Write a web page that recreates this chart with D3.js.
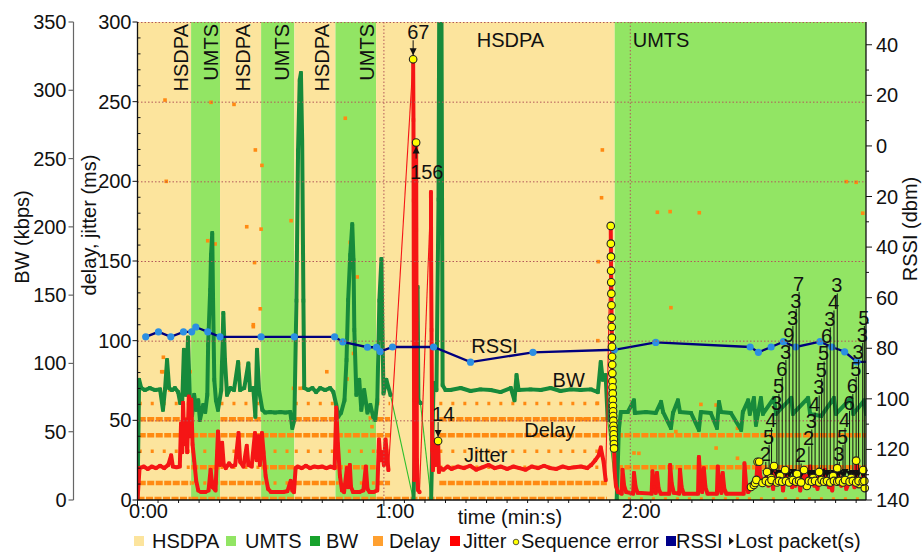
<!DOCTYPE html>
<html>
<head>
<meta charset="utf-8">
<script src="https://cdn.jsdelivr.net/npm/d3@7"></script>
<style>
  body { margin: 0; background: #fff; }
  svg { display: block; font-family: "Liberation Sans", Arial, sans-serif; }
</style>
</head>
<body>
<svg id="chart" width="922" height="556"></svg>
<script>
// ---------- network periods [start s, end s, technology] ----------
const bands = [
  [0, 13.05, "HSDPA"], [13.05, 20.1, "UMTS"], [20.1, 30.1, "HSDPA"], [30.1, 38.2, "UMTS"],
  [38.2, 48.2, "HSDPA"], [48.2, 58.1, "UMTS"], [58.1, 116.2, "HSDPA"], [116.2, 177.4, "UMTS"]
];

// ---------- RSSI (dBm) ----------
const rssiTimes  = [2.0, 5.1, 8.1, 11.2, 13.2, 14.2, 17.1, 20.1, 30.1, 38.2, 48.0, 50.0, 56.0, 58.2, 59.1,
                    62.1, 72.1, 81.1, 96.3, 116.1, 126.2, 149.2, 151.2, 154.3, 157.3, 160.3, 166.2, 169.1,
                    172.2, 175.2, 177.4];
const rssiValues = [-75.5, -73.5, -75.5, -73.5, -73.5, -71.6, -73.5, -75.5, -75.5, -75.5, -75.5, -77.5, -79.6,
                    -79.6, -81.3, -79.5, -79.5, -85.5, -81.6, -80.6, -77.7, -79.5, -81.6, -79.5, -77.4, -79.5,
                    -77.4, -79.5, -81.4, -85.4, -85.4];

// ---------- bandwidth samples [s, kbps] ----------
const bwSamples = [
  [0,0],[0.4,88],[0.9,82],[1.8,80.5],[3.0,82],[4.3,80.5],[5.5,81],[6.2,66],[6.7,81],[7.2,102.5],[7.7,82],
  [8.4,80.5],[9.1,82],[9.9,79],[10.4,71],[10.9,73],[11.3,110],[11.8,77],[12.3,119],[12.8,69.6],
  [13.3,62],[13.8,77],[14.3,66],[14.8,73],[15.2,58.6],[16.0,69.6],[16.5,64.4],[17.0,77],[17.2,113.5],
  [17.7,153.8],[17.9,179.4],[18.2,195.5],[18.4,146.4],[18.7,88],[19.1,73],[19.6,66],
  [20.4,80.5],[20.9,137],[21.3,102.5],[21.8,77],[22.6,82],[23.5,80.5],[24.5,101],[25.0,80.5],[26.0,82],
  [27.0,100],[27.4,80.5],[28.2,82],[28.7,61],[29.1,110],[29.6,80.5],
  [30.4,66],[31.1,64],[32.3,64.4],[33.5,64],[34.8,64.4],[36.0,64],[37.2,64.4],[37.7,52.7],[38.2,58.6],
  [38.7,146],[39.1,256],[39.5,307.5],[39.8,312.7],[40.1,263.6],[40.4,146],[40.6,82],[41.6,80.5],[42.6,82],
  [43.5,79],[44.5,82],[45.7,80.5],[46.9,82],[47.7,79],
  [48.4,69.6],[48.9,61],[49.6,64],[50.4,73],[50.9,102.5],[51.3,146.4],[51.8,179.4],[52.3,202],[52.6,175.7],
  [52.8,124.5],[53.3,77],[54.0,88],[54.5,66],[55.2,80.5],[56.0,64],[56.7,69.6],[57.4,61],[57.9,58.6],
  [58.4,73],[58.9,146],[59.4,176.5],[59.6,131.8],[59.9,78],[60.6,88],[61.6,77],
  [67.2,0],[67.7,58.6],[68.2,156],[68.4,73],[68.9,71],
  [71.5,0],[72.1,85.7],[72.8,80.5],[73.3,220],[73.5,380],[74.0,380],[74.3,84],[75.0,80.5],
  [76.2,80.5],[78.7,82],[81.1,79.8],[83.5,81],[86.0,80.5],[88.4,79],[90.9,82],[91.8,73],[92.3,91.5],
  [92.8,80.5],[95.7,81],[98.2,80.5],[100.6,82],[103.0,79.8],[105.5,81],[107.9,80.5],[110.4,81],[112.1,79],
  [112.8,101],[113.3,88],[114.0,91.5],[114.5,58.6],
  [116.7,0],[117.2,51],[117.7,64.4],[119.4,64.4],[120.9,73],[121.1,63.7],[123.8,64.4],[126.2,63.7],
  [127.5,71.8],[128.0,64.4],[129.9,52.7],[130.4,63.7],[131.6,73],[132.1,64.4],[134.8,63.7],[136.7,51.3],
  [137.2,64.4],[139.6,63.7],[141.1,52.7],[141.6,71.8],[142.1,64.4],[144.5,63.7],[147.0,51.3],[147.4,64.4],
  [148.7,73],[149.1,63],[150.1,74.7],[150.6,55],[151.1,63],[151.8,74.7],[152.3,63],[155.0,74.7],[155.5,63],
  [159.2,74.7],[159.6,63],[163.3,74.7],[163.8,63],[166.5,61.5],[169.6,74.7],[170.1,63],[173.8,74.7],
  [174.3,63],[177.0,73],[177.4,63]
];
// intervals without bandwidth samples (bridged by a thin line)
const bwGaps = [[61.6, 67.2], [68.9, 71.5], [114.5, 116.7]];

// ---------- jitter samples [s, ms] ----------
const jitterSamples = [
  [0,0],[0.5,20],[1.5,21],[2.5,19.5],[3.5,21],[4.5,20],[5.5,21.5],[6.5,20],[7.5,22],[8.2,28],[8.6,21],
  [9.5,20.5],[10.3,21],[10.6,48],[10.9,30],[11.1,61],[11.4,35],[11.8,50],[12.1,30],[12.5,65],[12.8,40],
  [13.1,63],[13.4,35],[13.8,25],[14.3,12],[14.8,6],[15.5,5],[16.5,5],[17.3,6],[17.8,19],[18.3,8],[19.0,6],
  [19.6,43],[20.1,22],[20.6,36],[21.0,22],[21.5,20],[22.3,23],[23.0,21],[23.8,22],[24.6,42],[25.0,24],
  [25.8,21],[26.6,34],[27.0,22],[27.8,21],[28.6,42],[29.0,25],[29.4,40],[29.8,22],
  [30.3,42],[30.7,30],[31.2,15],[31.8,7],[32.5,5],[34.0,5],[35.5,5],[36.5,5.5],[37.3,12],[37.7,6],[38.1,5],
  [38.5,20],[39.0,21],[40.0,20],[41.0,21.5],[42.0,20],[43.0,21],[44.0,20.5],[45.0,21],[46.0,20],[47.0,21],
  [48.0,20],[48.4,58],[48.8,35],[49.3,15],[49.8,6],[50.3,5],[51.0,20],[51.3,8],[51.7,22],[52.0,8],[52.5,5],
  [54.0,5],[55.0,6],[55.6,21],[56.0,7],[56.5,5],[57.5,5],[58.4,6],[58.8,38],[59.2,25],[59.6,30],[60.0,22],
  [60.4,38],[61.1,18.8],
  [67.2,238.5],[67.24,188],[67.29,125.5],[67.34,62.8],[67.39,12.6],
  [67.9,169.5],[67.95,113],[68.0,62.8],[68.04,25],[68.3,6.3],[68.66,5],
  [71.46,193.3],[71.5,150.6],[71.6,106.7],[71.7,62.8],[71.76,31.4],[71.95,18.8],[72.3,37.7],[72.56,22],
  [72.8,34.5],[73.4,17.6],[73.8,20],[74.5,19],[75.5,21],[76.5,19.5],[78.0,21],[79.5,20],[81.0,21.5],
  [82.5,19],[84.0,20.5],[85.5,22],[87.0,20],[88.5,21],[90.0,19.5],[91.5,21],[93.0,20],[94.5,19],[96.0,21],
  [97.5,20],[99.0,21.5],[100.5,20],[102.0,19.5],[103.5,21],[105.0,20],[106.5,20.5],[108.0,21],[109.5,20],
  [110.5,22],[111.5,25],[112.3,28],[112.8,33],[113.5,24],[114.0,12.5],
  [116.2,18],[116.5,9],[117.0,5],[117.9,4],[118.1,19],[118.5,9],[119.0,5],[120.7,4],[120.9,17],[121.3,8],
  [121.8,4.5],[125.2,4],[125.4,18],[125.8,8],[126.2,4.5],[126.5,17],[126.9,7],[127.4,4],[129.5,4],[129.7,22],
  [130.1,10],[130.6,4.5],[131.9,4],[132.1,19],[132.5,8],[133.0,4],[136.5,4],[136.7,27],[137.1,12],[137.5,5],
  [137.9,20],[138.3,8],[138.8,4],[141.1,4],[141.3,21],[141.7,9],[142.2,4.5],[142.5,17],[142.9,7],[143.4,4],
  [147.6,4],[147.8,23],[148.2,10],[148.7,5],[149.0,6],[151.6,16],[152.6,12],[153.6,9],[154.8,7],
  [156.0,10],[157.2,6],[158.4,19],[159.4,8],[160.2,9],[161.4,6],[162.6,8],[163.2,15],[163.8,21],[164.8,9],
  [165.6,7],[166.4,16],[167.4,19],[168.4,8],[169.2,6],[170.6,18],[171.4,9],[172.6,7],[173.6,11],[174.6,8],
  [175.4,13],[176.4,10],[177.3,14]
];
// intervals without jitter samples
const jitterGaps = [[61.1, 67.12], [67.39, 67.85], [68.66, 71.46], [114.0, 115.24]];

// ---------- sequence errors [s, jitter ms] ----------
const seqErrors = [
  [115.24,172.0],[115.27,160.9],[115.30,152.7],[115.33,143.9],[115.36,136.6],[115.39,129.5],[115.42,122.2],
  [115.45,114.4],[115.48,108.6],[115.51,101.9],[115.54,96.2],[115.57,89.9],[115.60,84.9],[115.63,79.5],
  [115.66,74.6],[115.69,70.7],[115.72,66.9],[115.75,62.8],[115.78,59.0],[115.81,55.7],[115.84,52.7],
  [115.87,49.8],[115.90,46.6],[115.93,43.9],[115.96,41.2],[115.99,38.1],[116.02,35.1],[116.05,32.4],
  [149.4,8.2],[150.1,9.4],[150.4,10.7],[150.7,12.6],[151.0,24],[151.4,24],[152.2,10.7],[153.3,17.6],
  [154.3,13.8],[155.0,21.3],[156.5,15],[157.7,18.8],[159.1,12.6],[160.6,16.3],[162.3,18.8],[163.0,8.8],
  [164.5,13.8],[166.0,17.6],[167.7,11.3],[169.4,15],[170.4,20],[171.9,12.6],[173.8,13.8],[175.0,24.7],
  [175.7,10],[176.7,18.8],[177.1,7.5]
];

// ---------- lost packets [s, jitter ms, packets lost] ----------
const lostPackets = [
  [67.12,276.6,67],[67.85,224.3,156],[73.2,37,14],
  [153.0,12,2],[153.8,11,5],[154.4,12.5,4],[155.7,11,3],[156.2,12,5],[157.0,11.5,6],[157.9,12,3],
  [158.7,11,9],[159.6,12.5,3],[160.4,11.5,3],[161.1,12,7],
  [161.6,11,2],[163.5,12,2],[164.2,11.5,3],[165.0,12,4],[166.0,11,3],[166.6,12.5,5],[167.2,11.5,5],
  [167.9,12,6],[168.7,11,3],[169.6,12,4],[170.4,11.5,3],
  [170.9,12,3],[171.8,11,5],[172.3,12.5,4],[173.4,11.5,6],[174.2,12,6],[175.0,11,5],[175.6,12,3],
  [176.6,11.5,3],[177.0,12,5]
];

// ---------- one-way delay (ms) ----------
// well-populated delay levels [from s, to s, ms]
const delayDenseRuns = [
  [0.3,13.0,50],[0.3,13.0,40],[0.3,13.0,10],[0,13.0,0],
  [13.1,20.0,40],[13.1,20.0,20],[13.1,20.0,0],
  [20.2,30.0,50],[20.2,30.0,40],[20.2,30.0,10],[20.2,30.0,0],
  [30.2,38.1,40],[30.2,38.1,20],[30.2,38.1,0],
  [38.3,48.1,50],[38.3,48.1,40],[38.3,48.1,10],[38.3,48.1,0],
  [48.3,58.0,40],[48.3,58.0,20],[48.3,58.0,0],
  [58.2,61.5,50],[58.2,61.5,40],[58.2,61.5,10],[58.2,114.3,0],
  [73.5,114.3,50],[73.5,114.3,40],[73.5,114.3,10],
  [116.5,177.4,40],[116.5,177.4,20]
];
// thinly populated delay levels
const delaySparseRuns = [
  [0.3,13.0,60],[0.3,13.0,30],[0.3,13.0,20],
  [13.1,20.0,30],[13.1,20.0,10],
  [20.2,30.0,60],[20.2,30.0,30],[20.2,30.0,20],
  [30.2,38.1,30],[30.2,38.1,10],
  [38.3,48.1,60],[38.3,48.1,30],[38.3,48.1,20],
  [48.3,58.0,30],[48.3,58.0,10],
  [58.2,61.5,60],[58.2,61.5,30],[58.2,61.5,20],
  [73.5,114.3,60],[73.5,114.3,30],[73.5,114.3,20],
  [116.5,177.4,0],[108.0,114.3,50]
];
// isolated delay samples [s, ms]
const delayOutliers = [
  [6.7,251],[7.0,200],[17.9,249.6],[23.5,248.3],[28.7,219.7],[30.3,210],[26.6,171.5],[30.1,170],
  [28.5,149],[29.9,120],[28.2,108.8],[37.4,175.3],[50.6,239.6],[51.8,161.7],[53.5,140],[17.1,162.7],
  [18.9,160.7],[113.2,219.7],[113.0,189.7],[126.6,180.6],[129.7,181],[136.8,180.3],[129.9,120.7],
  [112.1,100],[112.2,149.6],[172.6,199.8],[175.0,199.4],[176.6,180],
  [6.2,80.5],[12.8,80.5],[11.6,75.3],[28.2,110],[24.6,85.8],[46.1,80.5],[50.9,75.9],[56.7,51.5],
  [40.4,70.3],[6.3,89.6],[12.0,80.5],[112.0,60.7],[127.4,59.6],[137.2,60],[140.9,59.6],[146.1,45],
  [120.9,29.5],[122.1,29.3],[140.9,32.6],[146.1,26.2],[131.1,42.9],[5.9,80.5],[7.9,69],[38.0,70.1],
  [39.6,70.1],[51.0,76],[52.6,92],[57.1,46]
];

// ---------- axes ----------
const bwTicks = [0, 50, 100, 150, 200, 250, 300, 350];
const delayTicks = [0, 50, 100, 150, 200, 250, 300];
const rssiTicks = [-140, -120, -100, -80, -60, -40, -20, 0, 20, 40];
const timeTicks = [0, 60, 120];
const timeTickLabels = ["0:00", "1:00", "2:00"];

// ================= drawing =================
const svg = d3.select("#chart");
const x = d3.scaleLinear().domain([0, 177.4]).range([137.5, 866]);
const yMs = d3.scaleLinear().domain([0, 300]).range([500, 22]);
const yBw = d3.scaleLinear().domain([0, 350]).range([500, 22]);
const yRssi = d3.scaleLinear().domain([-140, 49]).range([500, 22]);
const [X0, X1] = x.range();
const [YB, YT] = yMs.range();

const colors = {
  HSDPA: "#FCE49D", UMTS: "#92E564",
  bw: "#178A3B", bwThin: "#2CBF2C",
  delay: "#FF8A12", jitter: "#F51515",
  rssi: "#00007E", rssiDot: "#2C8FE2",
  grid: "#B2575A"
};

svg.append("defs").append("clipPath").attr("id", "plot")
  .append("rect").attr("x", X0).attr("y", YT).attr("width", X1 - X0).attr("height", YB - YT);

const plot = svg.append("g").attr("clip-path", "url(#plot)");

// network periods
plot.selectAll("rect.band").data(bands).join("rect")
  .attr("x", d => x(d[0])).attr("width", d => x(d[1]) - x(d[0]))
  .attr("y", YT).attr("height", YB - YT)
  .attr("fill", d => colors[d[2]]);

// dotted grid
const grid = svg.append("g").attr("stroke", colors.grid).attr("stroke-width", 1)
  .attr("stroke-dasharray", "1.5,2");
grid.selectAll("line.h").data(delayTicks.filter(v => v > 0)).join("line")
  .attr("x1", X0).attr("x2", X1).attr("y1", d => yMs(d) + 0.5).attr("y2", d => yMs(d) + 0.5);
grid.selectAll("line.v").data(timeTicks.filter(v => v > 0)).join("line")
  .attr("x1", d => x(d)).attr("x2", d => x(d)).attr("y1", YT).attr("y2", YB);

// delay levels
const delayG = plot.append("g").attr("stroke", colors.delay).attr("fill", "none");
delayG.selectAll("line.dense").data(delayDenseRuns).join("line")
  .attr("x1", d => x(d[0])).attr("x2", d => x(d[1]))
  .attr("y1", d => yMs(d[2]) - 1).attr("y2", d => yMs(d[2]) - 1)
  .attr("stroke-width", 4.5).attr("stroke-dasharray", "7,1.5");
delayG.selectAll("line.sparse").data(delaySparseRuns).join("line")
  .attr("x1", d => x(d[0])).attr("x2", d => x(d[1]))
  .attr("y1", d => yMs(d[2]) - 1).attr("y2", d => yMs(d[2]) - 1)
  .attr("stroke-width", 3.5).attr("stroke-dasharray", "3,9");
plot.append("g").selectAll("rect").data(delayOutliers).join("rect")
  .attr("x", d => x(d[0]) - 1.8).attr("y", d => yMs(d[1]) - 1.8)
  .attr("width", 3.6).attr("height", 3.6).attr("fill", colors.delay);

// traces: dense stretches thick, bridges across gaps thin
function drawTrace(samples, yScale, gaps, thickColor, thinColor, thickWidth, dotSize) {
  const g = plot.append("g");
  const line = d3.line().x(d => x(d[0])).y(d => yScale(d[1]));
  const isGap = (a, b) => gaps.some(([g0, g1]) => a >= g0 - 1e-6 && b <= g1 + 1e-6);
  const runs = [[samples[0]]];
  const bridges = [];
  for (let i = 1; i < samples.length; i++) {
    const p = samples[i - 1], q = samples[i];
    if (isGap(p[0], q[0])) { bridges.push([p, q]); runs.push([q]); }
    else runs[runs.length - 1].push(q);
  }
  g.selectAll("path.bridge").data(bridges).join("path")
    .attr("d", line).attr("fill", "none").attr("stroke", thinColor).attr("stroke-width", 1.1);
  g.selectAll("path.run").data(runs.filter(r => r.length > 1)).join("path")
    .attr("d", line).attr("fill", "none").attr("stroke", thickColor)
    .attr("stroke-width", thickWidth).attr("stroke-linejoin", "round").attr("stroke-linecap", "round");
  g.selectAll("rect").data(samples).join("rect")
    .attr("x", d => x(d[0]) - dotSize / 2).attr("y", d => yScale(d[1]) - dotSize / 2)
    .attr("width", dotSize).attr("height", dotSize).attr("fill", thickColor);
}

drawTrace(bwSamples, yBw, bwGaps, colors.bw, colors.bwThin, 4, 3.6);

const jitterAll = jitterSamples
  .concat(seqErrors.map(d => [d[0], d[1]]))
  .concat(lostPackets.map(d => [d[0], d[1]]))
  .sort((a, b) => a[0] - b[0]);
drawTrace(jitterAll, yMs, jitterGaps, colors.jitter, colors.jitter, 4, 3.4);

// RSSI
const rssi = rssiTimes.map((t, i) => [t, rssiValues[i]]);
plot.append("path").datum(rssi)
  .attr("d", d3.line().x(d => x(d[0])).y(d => yRssi(d[1])))
  .attr("fill", "none").attr("stroke", colors.rssi).attr("stroke-width", 2.3);
plot.append("g").selectAll("circle").data(rssi.filter(d => d[0] < 177)).join("circle")
  .attr("cx", d => x(d[0])).attr("cy", d => yRssi(d[1])).attr("r", 3.6)
  .attr("fill", colors.rssiDot);

// lost-packet annotations: consecutive close labels climb in a staircase,
// which restarts from the bottom once it gets too tall
const annG = svg.append("g");
let prevLabel = null;
lostPackets.forEach(([t, v, n]) => {
  const mx = x(t), my = yMs(v);
  const before = jitterAll.filter(d => d[0] < t && d[0] >= t - 1);
  const below = before.some(d => d[1] > v + 20);
  let ly;
  if (below) ly = my + 29;
  else {
    ly = my - 27;
    if (prevLabel && !prevLabel.below && Math.abs(prevLabel.x - mx) < 12) {
      const stacked = prevLabel.y - 17;
      if (stacked >= 280) ly = Math.min(ly, stacked);
    }
  }
  prevLabel = { x: mx, y: ly, below };
  const tipY = below ? my + 4 : my - 4;
  const tailY = below ? ly - 13 : ly + 8;
  annG.append("line").attr("x1", mx).attr("x2", mx).attr("y1", tailY).attr("y2", tipY)
    .attr("stroke", "#111").attr("stroke-width", 1);
  const dir = below ? -1 : 1;
  annG.append("path")
    .attr("d", `M${mx - 3.5},${tipY - dir * 7}L${mx + 3.5},${tipY - dir * 7}L${mx},${tipY}Z`)
    .attr("fill", "#111");
  annG.append("text").attr("x", mx - 6).attr("y", ly).attr("dy", "0.35em")
    .attr("font-size", 20).attr("fill", "#111").text(n);
});

// sequence-error markers
svg.append("g").selectAll("circle")
  .data(seqErrors.concat(lostPackets.map(d => [d[0], d[1]])).filter(d => d[0] <= 177.2))
  .join("circle")
  .attr("cx", d => x(d[0])).attr("cy", d => yMs(d[1])).attr("r", 3.8)
  .attr("fill", "#FFFF00").attr("stroke", "#222").attr("stroke-width", 1.1);

// network labels
const bandLabelTime = [12.3, 19.6, 27.4, 36.95, 46.7, 57.7, 82.6, 120.6];
bands.forEach((b, i) => {
  const wide = x(b[1]) - x(b[0]) > 120;
  const t = svg.append("text").attr("font-size", 20).attr("fill", "#111").text(b[2]);
  if (wide) t.attr("x", x(bandLabelTime[i])).attr("y", 46.5);
  else t.attr("transform", `translate(${x(bandLabelTime[i])},24) rotate(-90)`).attr("text-anchor", "end");
});

// series labels
const seriesLabels = [
  { text: "RSSI", t: 86.95, y: yRssi(-81.9) },
  { text: "BW", t: 105, y: yBw(82.7) },
  { text: "Delay", t: 100.4, y: yMs(39.5) },
  { text: "Jitter", t: 84.8, y: yMs(23.8) }
];
svg.append("g").selectAll("text").data(seriesLabels).join("text")
  .attr("x", d => x(d.t)).attr("y", d => d.y).attr("text-anchor", "middle")
  .attr("font-size", 20).attr("fill", "#111").text(d => d.text);

// ---------- axes ----------
const axisG = svg.append("g").attr("font-size", 20).attr("fill", "#111");

// BW axis
const bwX = 73.5;
axisG.append("line").attr("x1", bwX).attr("x2", bwX).attr("y1", yBw(350)).attr("y2", yBw(0))
  .attr("stroke", "#666").attr("stroke-width", 1.2);
bwTicks.forEach(v => {
  axisG.append("line").attr("x1", bwX - 5).attr("x2", bwX).attr("y1", yBw(v)).attr("y2", yBw(v))
    .attr("stroke", "#666").attr("stroke-width", 1.2);
  axisG.append("text").attr("x", bwX - 7).attr("y", yBw(v)).attr("dy", "0.35em")
    .attr("text-anchor", "end").text(v);
});

// delay / jitter axis
axisG.append("line").attr("x1", X0).attr("x2", X0).attr("y1", YT).attr("y2", YB)
  .attr("stroke", "#111").attr("stroke-width", 1.3);
d3.range(0, 301, 10).forEach(v => {
  const major = v % 50 === 0;
  axisG.append("line").attr("x1", major ? X0 - 5 : X0).attr("x2", major ? X0 : X0 + 3)
    .attr("y1", yMs(v)).attr("y2", yMs(v)).attr("stroke", "#111").attr("stroke-width", 1);
});
delayTicks.forEach(v => {
  axisG.append("text").attr("x", X0 - 6).attr("y", yMs(v)).attr("dy", "0.35em")
    .attr("text-anchor", "end").text(v);
});

// RSSI axis (magnitudes shown)
axisG.append("line").attr("x1", X1).attr("x2", X1).attr("y1", YT).attr("y2", YB)
  .attr("stroke", "#111").attr("stroke-width", 1.3);
d3.range(-140, 50, 10).forEach(v => {
  const major = v % 20 === 0;
  axisG.append("line").attr("x1", X1).attr("x2", X1 + (major ? 6 : 3))
    .attr("y1", yRssi(v)).attr("y2", yRssi(v)).attr("stroke", "#111").attr("stroke-width", 1);
});
rssiTicks.forEach(v => {
  axisG.append("text").attr("x", X1 + 10).attr("y", yRssi(v)).attr("dy", "0.35em")
    .text(Math.abs(v));
});

// time axis
axisG.append("line").attr("x1", X0).attr("x2", X1).attr("y1", YB).attr("y2", YB)
  .attr("stroke", "#111").attr("stroke-width", 1.3);
d3.range(0, 177, 5).forEach(t => {
  axisG.append("line").attr("x1", x(t)).attr("x2", x(t)).attr("y1", YB)
    .attr("y2", YB + (t % 60 === 0 ? 6 : 3)).attr("stroke", "#111").attr("stroke-width", 1);
});
timeTicks.forEach((t, i) => {
  axisG.append("text").attr("x", x(t) + 11).attr("y", 518).attr("text-anchor", "middle")
    .text(timeTickLabels[i]);
});

// axis titles
axisG.append("text").attr("transform", "translate(29,237) rotate(-90)").attr("text-anchor", "middle")
  .text("BW (kbps)");
axisG.append("text").attr("transform", "translate(96,225) rotate(-90)").attr("text-anchor", "middle")
  .text("delay, jitter (ms)");
axisG.append("text").attr("transform", "translate(917,229) rotate(-90)").attr("text-anchor", "middle")
  .text("RSSI (dbm)");
axisG.append("text").attr("x", 510).attr("y", 524).attr("text-anchor", "middle").text("time (min:s)");

// legend
const legendItems = [
  { label: "HSDPA", kind: "sq", color: colors.HSDPA, sx: 134, tx: 152 },
  { label: "UMTS", kind: "sq", color: colors.UMTS, sx: 226, tx: 245 },
  { label: "BW", kind: "sq", color: "#17A22C", sx: 310, tx: 326 },
  { label: "Delay", kind: "sq", color: "#FFA030", sx: 373, tx: 389 },
  { label: "Jitter", kind: "sq", color: "#FF0000", sx: 450, tx: 463 },
  { label: "Sequence error", kind: "dot", color: "#FFFF00", sx: 514, tx: 521 },
  { label: "RSSI", kind: "sq", color: "#00008B", sx: 666, tx: 676 },
  { label: "Lost packet(s)", kind: "tri", color: "#111", sx: 730, tx: 735 }
];
const legY = 541;
const leg = svg.append("g").attr("font-size", 20).attr("fill", "#111");
legendItems.forEach(d => {
  if (d.kind === "sq")
    leg.append("rect").attr("x", d.sx).attr("y", legY - 5).attr("width", 10).attr("height", 10).attr("fill", d.color);
  else if (d.kind === "dot")
    leg.append("circle").attr("cx", d.sx + 2).attr("cy", legY + 1).attr("r", 2.8)
      .attr("fill", d.color).attr("stroke", "#333").attr("stroke-width", 0.8);
  else
    leg.append("path").attr("d", `M${d.sx - 1},${legY - 4}L${d.sx + 4},${legY}L${d.sx - 1},${legY + 4}Z`).attr("fill", d.color);
  leg.append("text").attr("x", d.tx).attr("y", legY).attr("dy", "0.35em").text(d.label);
});
</script>
</body>
</html>
